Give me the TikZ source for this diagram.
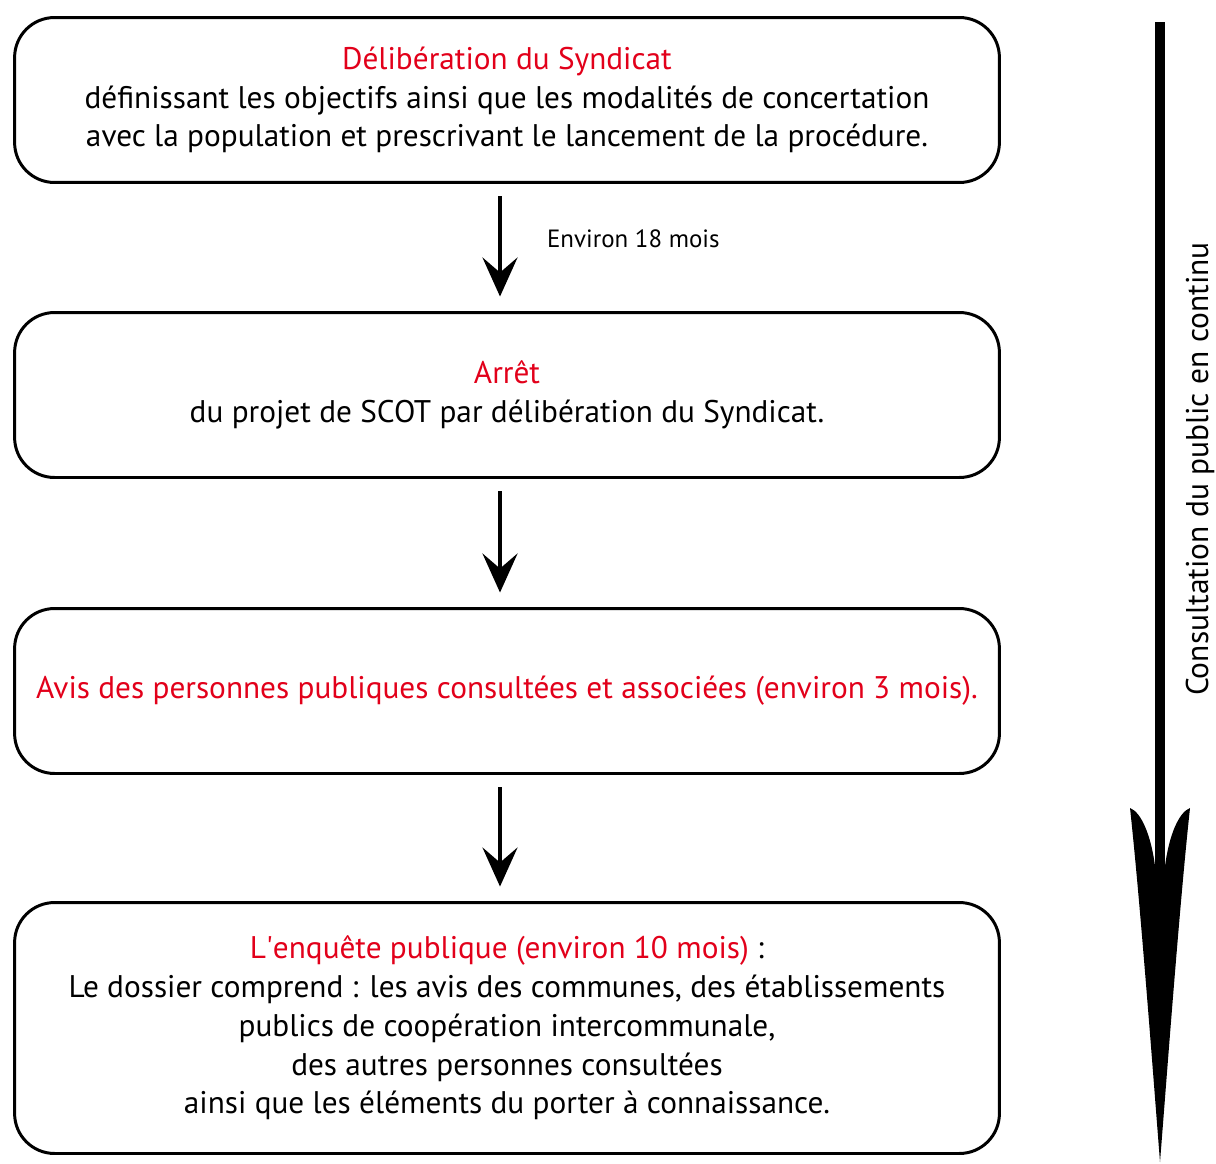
\documentclass[tikz,border=0pt]{standalone}
\usepackage{fontspec}
\setmainfont{PT Sans}
\usetikzlibrary{arrows.meta, positioning}
\definecolor{scotred}{RGB}{226,0,26}
\tikzset{>={Stealth[length=0.78cm, width=0.7cm, inset=0.3cm]}}

\begin{document}
\begin{tikzpicture}[
  x=0.02cm, y=-0.02cm,
  stepbox/.style={draw, line width=1.7pt, rounded corners=0.8cm, minimum width=19.7cm, minimum height=3.3cm, align=center, inner sep=0pt, font=\fontsize{17.8}{22.1}\selectfont},
  flow/.style={->, line width=2.5pt},
  labelstyle/.style={font=\fontsize{14.2}{17}\selectfont},
  sidelabel/.style={rotate=90, font=\fontsize{17.9}{22}\selectfont}
]
\useasboundingbox (0,0) rectangle (1216,1163);

% Steps of the procedure
\node[stepbox] (delib) at (507,100) {\textcolor{scotred}{Délibération du Syndicat}\\
  définissant les objectifs ainsi que les modalités de concertation\\
  avec la population et prescrivant le lancement de la procédure.};
\node[stepbox] (arret) at (507,395) {\textcolor{scotred}{Arrêt}\\
  du projet de SCOT par délibération du Syndicat.};
\node[stepbox] (avis) at (507,691) {\textcolor{scotred}{Avis des personnes publiques consultées et associées (environ 3 mois).}};
\node[stepbox, minimum height=5.02cm] (enquete) at (507,1028) {\textcolor{scotred}{L\textquotesingle enquête publique (environ 10 mois)} :\\
  Le dossier comprend : les avis des communes, des établissements\\
  publics de coopération intercommunale,\\
  des autres personnes consultées\\
  ainsi que les éléments du porter à connaissance.};

% Arrows between steps
\draw[flow] ([xshift=-0.14cm, yshift=-0.25cm]delib.south) -- ([xshift=-0.14cm, yshift=0.29cm]arret.north)
  node[labelstyle, pos=0.42, right=0.78cm] (duree) {Environ 18 mois};
\draw[flow] ([xshift=-0.14cm, yshift=-0.25cm]arret.south) -- ([xshift=-0.14cm, yshift=0.29cm]avis.north);
\draw[flow] ([xshift=-0.14cm, yshift=-0.25cm]avis.south) -- ([xshift=-0.14cm, yshift=0.29cm]enquete.north);

% Continuous consultation arrow
\fill (1155,22) rectangle (1165,868);
\fill (1155,866) .. controls (1151,835) and (1141,812) .. (1130,808)
  .. controls (1140,900) and (1152,1060) .. (1160,1162)
  .. controls (1168,1060) and (1180,900) .. (1190,808)
  .. controls (1179,812) and (1169,835) .. (1165,866) -- cycle;
\node[sidelabel] (consult) at (1200,469) {Consultation du public en continu};

\end{tikzpicture}
\end{document}
